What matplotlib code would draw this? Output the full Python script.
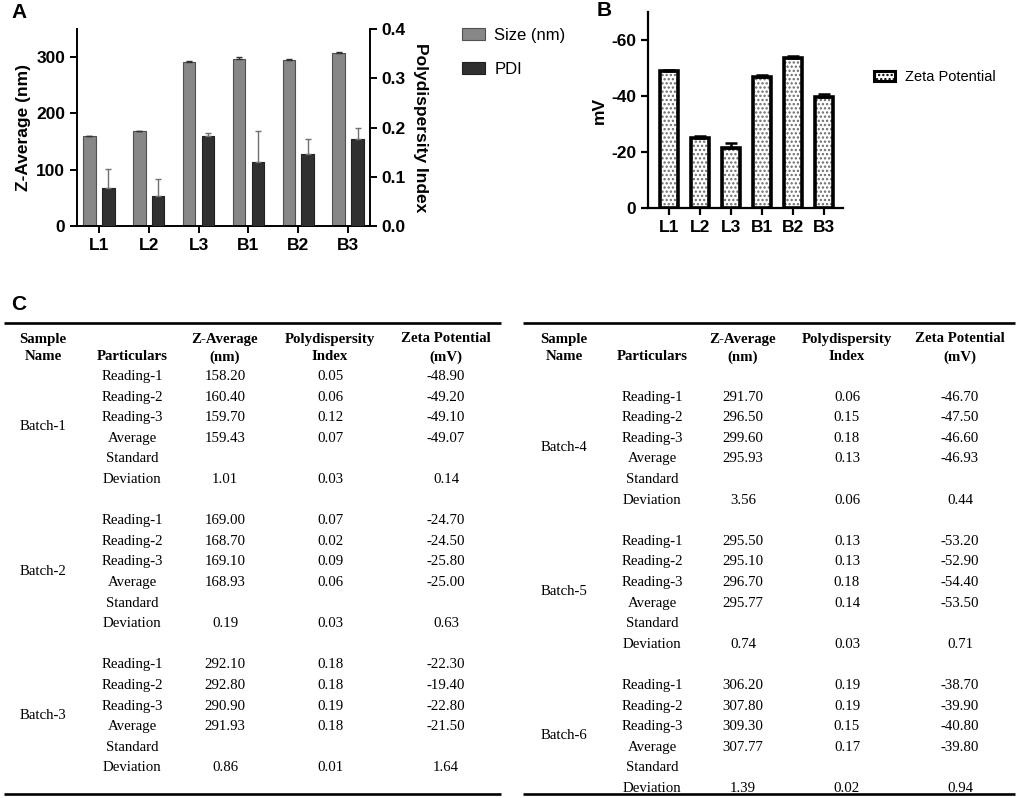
import numpy as np
import matplotlib
matplotlib.use('Agg')
from matplotlib import pyplot as plt
from matplotlib.patches import Patch


# =============================================================================
# Data
# =============================================================================
samples = ['L1', 'L2', 'L3', 'B1', 'B2', 'B3']

# panel A: size (nm) and PDI, mean and SD
size_mean = [159.43, 168.93, 291.93, 295.93, 295.77, 307.77]
size_sd = [1.01, 0.19, 0.86, 3.56, 0.74, 1.39]
pdi_mean = [0.077, 0.060, 0.183, 0.130, 0.147, 0.177]
pdi_sd = [0.038, 0.036, 0.006, 0.062, 0.029, 0.023]

# panel B: zeta potential (mV)
zeta_mean = [-49.07, -25.00, -21.50, -46.93, -53.50, -39.80]
zeta_sd = [0.14, 0.63, 1.64, 0.44, 0.71, 0.94]

# panel C: table
batches = ['Batch-1', 'Batch-2', 'Batch-3', 'Batch-4', 'Batch-5', 'Batch-6']
particulars = ['Reading-1', 'Reading-2', 'Reading-3', 'Average', 'Standard\nDeviation']
headers = ['Sample\nName', 'Particulars', 'Z-Average\n(nm)', 'Polydispersity\nIndex', 'Zeta Potential\n(mV)']
tab_z = [[158.20, 160.40, 159.70, 159.43, 1.01],
         [169.00, 168.70, 169.10, 168.93, 0.19],
         [292.10, 292.80, 290.90, 291.93, 0.86],
         [291.70, 296.50, 299.60, 295.93, 3.56],
         [295.50, 295.10, 296.70, 295.77, 0.74],
         [306.20, 307.80, 309.30, 307.77, 1.39]]
tab_pdi = [[0.05, 0.06, 0.12, 0.07, 0.03],
           [0.07, 0.02, 0.09, 0.06, 0.03],
           [0.18, 0.18, 0.19, 0.18, 0.01],
           [0.06, 0.15, 0.18, 0.13, 0.06],
           [0.13, 0.13, 0.18, 0.14, 0.03],
           [0.19, 0.19, 0.15, 0.17, 0.02]]
tab_zeta = [[-48.90, -49.20, -49.10, -49.07, 0.14],
            [-24.70, -24.50, -25.80, -25.00, 0.63],
            [-22.30, -19.40, -22.80, -21.50, 1.64],
            [-46.70, -47.50, -46.60, -46.93, 0.44],
            [-53.20, -52.90, -54.40, -53.50, 0.71],
            [-38.70, -39.90, -40.80, -39.80, 0.94]]

W, H = 1017, 798
SANS = 'Liberation Sans'
SERIF = 'Liberation Serif'
plt.rcParams['font.family'] = SANS
plt.rcParams['axes.unicode_minus'] = False
plt.rcParams['hatch.linewidth'] = 1.1


def px_axes(fig, x0, y0, x1, y1):
    # axes from pixel box (top-left origin)
    return fig.add_axes([x0 / W, 1 - y1 / H, (x1 - x0) / W, (y1 - y0) / H])


def style_axes(ax, lw=1.4):
    for s in ['top', 'right']:
        ax.spines[s].set_visible(False)
    for s in ['left', 'bottom']:
        ax.spines[s].set_linewidth(lw)
    ax.tick_params(width=lw, length=5, labelsize=12.5)
    for lab in ax.get_xticklabels() + ax.get_yticklabels():
        lab.set_fontweight('bold')


fig = plt.figure(figsize=(W / 100, H / 100), dpi=100)

# =============================================================================
# Panel A
# =============================================================================
x = np.arange(len(samples))
ax1 = px_axes(fig, 77, 29, 370, 226)
ax2 = ax1.twinx()
bw = 0.25
off = 0.19
ax1.bar(x - off, size_mean, bw, color='#878787', edgecolor='#505050', linewidth=0.8, zorder=2)
ax1.errorbar(x - off, size_mean, yerr=[np.zeros(len(x)), size_sd], fmt='none',
             ecolor='#333333', elinewidth=1.0, capsize=2.5, capthick=1.0, zorder=3)
ax2.bar(x + off, pdi_mean, bw, color='#303030', edgecolor='#202020', linewidth=0.8, zorder=2)
ax2.errorbar(x + off, pdi_mean, yerr=[np.zeros(len(x)), pdi_sd], fmt='none',
             ecolor='#707070', elinewidth=1.0, capsize=2.5, capthick=1.0, zorder=3)
ax1.set_xlim(-0.44, 5.44)
ax1.set_ylim(0, 350)
ax2.set_ylim(0, 0.4)
ax1.set_xticks(x)
ax1.set_xticklabels(samples)
ax1.set_yticks([0, 100, 200, 300])
ax2.set_yticks([0, 0.1, 0.2, 0.3, 0.4])
ax2.set_yticklabels(['%.1f' % v for v in [0, 0.1, 0.2, 0.3, 0.4]])
style_axes(ax1)
ax2.spines['top'].set_visible(False)
ax2.spines['left'].set_visible(False)
ax2.spines['bottom'].set_visible(False)
ax2.spines['right'].set_linewidth(1.4)
ax2.tick_params(width=1.4, length=5, labelsize=12.5)
for lab in ax2.get_yticklabels():
    lab.set_fontweight('bold')
ax1.set_ylabel('Z-Average (nm)', fontsize=12.5, fontweight='bold', labelpad=4)
ax2.set_ylabel('Polydispersity Index', fontsize=12.5, fontweight='bold', rotation=270, labelpad=16)

handles_a = [Patch(facecolor='#878787', edgecolor='#505050', linewidth=0.8),
             Patch(facecolor='#303030', edgecolor='#202020', linewidth=0.8)]
fig.legend(handles_a, ['Size (nm)', 'PDI'], loc='upper left', bbox_to_anchor=(447 / W, 1 - 13 / H),
           frameon=False, fontsize=12, handlelength=1.35, handleheight=0.75,
           handletextpad=0.6, labelspacing=1.15)

# =============================================================================
# Panel B
# =============================================================================
axb = px_axes(fig, 648, 12, 843, 208)
axb.bar(x, zeta_mean, 0.58, color='white', edgecolor='#6a6a6a', hatch='....', linewidth=0, zorder=2)
axb.bar(x, zeta_mean, 0.58, fill=False, edgecolor='black', linewidth=2.6, zorder=3)
axb.errorbar(x, zeta_mean, yerr=[zeta_sd, np.zeros(len(x))], fmt='none',
             ecolor='black', elinewidth=1.8, capsize=4, capthick=1.8, zorder=4)
axb.set_xlim(-0.68, 5.61)
axb.set_ylim(0, -70)
axb.set_xticks(x)
axb.set_xticklabels(samples)
axb.set_yticks([0, -20, -40, -60])
style_axes(axb, lw=1.6)
axb.set_ylabel('mV', fontsize=12.5, fontweight='bold', labelpad=3)

hb = Patch(facecolor='white', edgecolor='black', hatch='....', linewidth=2.2)
fig.legend([hb], ['Zeta Potential'], loc='upper left', bbox_to_anchor=(861 / W, 1 - 57 / H),
           frameon=False, fontsize=10.5, handlelength=1.4, handleheight=0.6, handletextpad=0.7)

# panel letters
fig.text(11 / W, 1 - 13 / H, 'A', fontsize=15, fontweight='bold', va='center', ha='left')
fig.text(597 / W, 1 - 11 / H, 'B', fontsize=15, fontweight='bold', va='center', ha='left')
fig.text(11 / W, 1 - 305 / H, 'C', fontsize=15, fontweight='bold', va='center', ha='left')

# =============================================================================
# Panel C: tables drawn as text in pixel space
# =============================================================================
tab = fig.add_axes([0, 0, 1, 1])
tab.set_xlim(0, W)
tab.set_ylim(H, 0)
tab.axis('off')

line0 = 376.5     # first data line (y px)
dl = 20.6         # line spacing
fs = 10.7
tables = [
    dict(x0=4, x1=501, cols=[43, 132, 225, 330, 446], first=0, batches=[0, 1, 2]),
    dict(x0=523, x1=1015, cols=[564, 652, 743, 847, 960], first=1, batches=[3, 4, 5]),
]
for t in tables:
    tab.plot([t['x0'], t['x1']], [323, 323], color='black', lw=1.9, solid_capstyle='butt')
    tab.plot([t['x0'], t['x1']], [794, 794], color='black', lw=1.9, solid_capstyle='butt')
    cols = t['cols']
    # header
    for c, h in zip(cols, headers):
        parts = h.split('\n')
        if len(parts) == 1:
            parts = ['', parts[0]]
        for k, p in enumerate(parts):
            tab.text(c, 339 + 18 * k, p, family=SERIF, fontweight='bold', fontsize=fs,
                     ha='center', va='center')
    for j, b in enumerate(t['batches']):
        start = t['first'] + 7 * j
        tab.text(cols[0], line0 + dl * (start + 2.45), batches[b], family=SERIF, fontsize=fs,
                 ha='center', va='center')
        for i, p in enumerate(particulars):
            yy = line0 + dl * (start + i)
            if '\n' in p:
                a, bb = p.split('\n')
                tab.text(cols[1], yy, a, family=SERIF, fontsize=fs, ha='center', va='center')
                yy = yy + dl
                tab.text(cols[1], yy, bb, family=SERIF, fontsize=fs, ha='center', va='center')
            else:
                tab.text(cols[1], yy, p, family=SERIF, fontsize=fs, ha='center', va='center')
            tab.text(cols[2], yy, '%.2f' % tab_z[b][i], family=SERIF, fontsize=fs, ha='center', va='center')
            tab.text(cols[3], yy, '%.2f' % tab_pdi[b][i], family=SERIF, fontsize=fs, ha='center', va='center')
            tab.text(cols[4], yy, '%.2f' % tab_zeta[b][i], family=SERIF, fontsize=fs, ha='center', va='center')

fig.savefig('out.png', dpi=100)
